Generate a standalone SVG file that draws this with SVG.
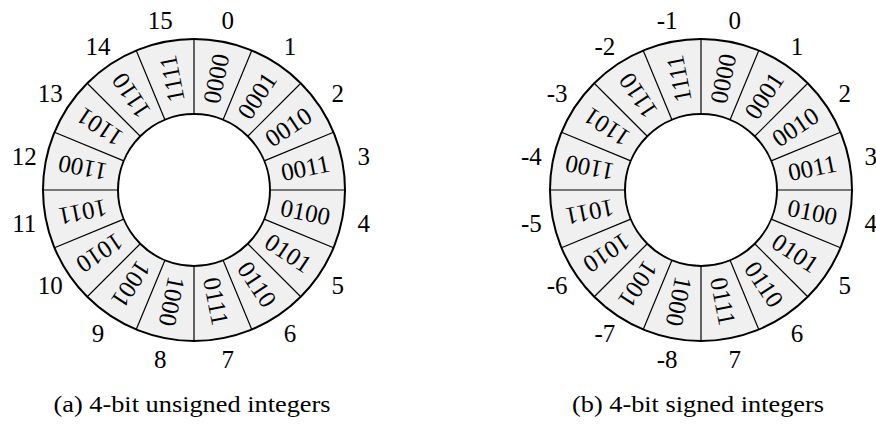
<svg xmlns="http://www.w3.org/2000/svg" xmlns:xlink="http://www.w3.org/1999/xlink" width="876" height="426" viewBox="0 0 876 426">
<style>
text{font-family:"Liberation Serif","Times New Roman",serif;font-size:25px;fill:#000;text-anchor:middle}
text.cap{font-size:24px}
.band{fill:#f0f0f0;fill-rule:evenodd;stroke:none}
.circ{fill:none;stroke:#000;stroke-width:2}
.div{stroke:#000;stroke-width:1.2}
</style>
<defs>
<g id="shell">
<path class="band" d="M0,-151A151,151 0 1,1 0,151A151,151 0 1,1 0,-151ZM0,-76A76,76 0 1,0 0,76A76,76 0 1,0 0,-76Z"/>
<g class="div">
<line x1="0" y1="-76" x2="0" y2="-151"/>
<line x1="0" y1="-76" x2="0" y2="-151" transform="rotate(22.5)"/>
<line x1="0" y1="-76" x2="0" y2="-151" transform="rotate(45)"/>
<line x1="0" y1="-76" x2="0" y2="-151" transform="rotate(67.5)"/>
<line x1="0" y1="-76" x2="0" y2="-151" transform="rotate(90)"/>
<line x1="0" y1="-76" x2="0" y2="-151" transform="rotate(112.5)"/>
<line x1="0" y1="-76" x2="0" y2="-151" transform="rotate(135)"/>
<line x1="0" y1="-76" x2="0" y2="-151" transform="rotate(157.5)"/>
<line x1="0" y1="-76" x2="0" y2="-151" transform="rotate(180)"/>
<line x1="0" y1="-76" x2="0" y2="-151" transform="rotate(202.5)"/>
<line x1="0" y1="-76" x2="0" y2="-151" transform="rotate(225)"/>
<line x1="0" y1="-76" x2="0" y2="-151" transform="rotate(247.5)"/>
<line x1="0" y1="-76" x2="0" y2="-151" transform="rotate(270)"/>
<line x1="0" y1="-76" x2="0" y2="-151" transform="rotate(292.5)"/>
<line x1="0" y1="-76" x2="0" y2="-151" transform="rotate(315)"/>
<line x1="0" y1="-76" x2="0" y2="-151" transform="rotate(337.5)"/>
</g>
<circle class="circ" r="151"/>
<circle class="circ" r="76"/>
</g>
<g id="bits">
<text transform="rotate(11.25) translate(0,-113.5) rotate(-90)" y="8.5">0000</text>
<text transform="rotate(33.75) translate(0,-113.5) rotate(-90)" y="8.5">0001</text>
<text transform="rotate(56.25) translate(0,-113.5) rotate(-90)" y="8.5">0010</text>
<text transform="rotate(78.75) translate(0,-113.5) rotate(-90)" y="8.5">0011</text>
<text transform="rotate(101.25) translate(0,-113.5) rotate(-90)" y="8.5">0100</text>
<text transform="rotate(123.75) translate(0,-113.5) rotate(-90)" y="8.5">0101</text>
<text transform="rotate(146.25) translate(0,-113.5) rotate(-90)" y="8.5">0110</text>
<text transform="rotate(168.75) translate(0,-113.5) rotate(-90)" y="8.5">0111</text>
<text transform="rotate(191.25) translate(0,-113.5) rotate(-90)" y="8.5">1000</text>
<text transform="rotate(213.75) translate(0,-113.5) rotate(-90)" y="8.5">1001</text>
<text transform="rotate(236.25) translate(0,-113.5) rotate(-90)" y="8.5">1010</text>
<text transform="rotate(258.75) translate(0,-113.5) rotate(-90)" y="8.5">1011</text>
<text transform="rotate(281.25) translate(0,-113.5) rotate(-90)" y="8.5">1100</text>
<text transform="rotate(303.75) translate(0,-113.5) rotate(-90)" y="8.5">1101</text>
<text transform="rotate(326.25) translate(0,-113.5) rotate(-90)" y="8.5">1110</text>
<text transform="rotate(348.75) translate(0,-113.5) rotate(-90)" y="8.5">1111</text>
</g>
</defs>

<g id="ring-unsigned">
<use xlink:href="#shell" href="#shell" transform="translate(194,190)"/>
<use xlink:href="#bits" href="#bits" transform="translate(194,190)"/>
<g id="labels-unsigned">
<text x="227.8" y="28.6">0</text>
<text x="290.1" y="54.5">1</text>
<text x="337.8" y="102.2">2</text>
<text x="363.7" y="164.6">3</text>
<text x="363.7" y="232.1">4</text>
<text x="337.8" y="294.4">5</text>
<text x="290.1" y="342.1">6</text>
<text x="227.8" y="368">7</text>
<text x="160.2" y="368">8</text>
<text x="97.9" y="342.1">9</text>
<text x="50.2" y="294.4">10</text>
<text x="24.3" y="232.1">11</text>
<text x="24.3" y="164.6">12</text>
<text x="50.2" y="102.2">13</text>
<text x="97.9" y="54.5">14</text>
<text x="160.2" y="28.6">15</text>
</g>
<text id="caption-a" class="cap" x="192" y="412" textLength="277" lengthAdjust="spacingAndGlyphs">(a) 4-bit unsigned integers</text>
</g>

<g id="ring-signed">
<use xlink:href="#shell" href="#shell" transform="translate(701,190)"/>
<use xlink:href="#bits" href="#bits" transform="translate(701,190)"/>
<g id="labels-signed">
<text x="734.8" y="28.6">0</text>
<text x="797.1" y="54.5">1</text>
<text x="844.8" y="102.2">2</text>
<text x="870.7" y="164.6">3</text>
<text x="870.7" y="232.1">4</text>
<text x="844.8" y="294.4">5</text>
<text x="797.1" y="342.1">6</text>
<text x="734.8" y="368">7</text>
<text x="667.2" y="368">-8</text>
<text x="604.9" y="342.1">-7</text>
<text x="557.2" y="294.4">-6</text>
<text x="531.3" y="232.1">-5</text>
<text x="531.3" y="164.6">-4</text>
<text x="557.2" y="102.2">-3</text>
<text x="604.9" y="54.5">-2</text>
<text x="667.2" y="28.6">-1</text>
</g>
<text id="caption-b" class="cap" x="698" y="412" textLength="252" lengthAdjust="spacingAndGlyphs">(b) 4-bit signed integers</text>
</g>
</svg>
